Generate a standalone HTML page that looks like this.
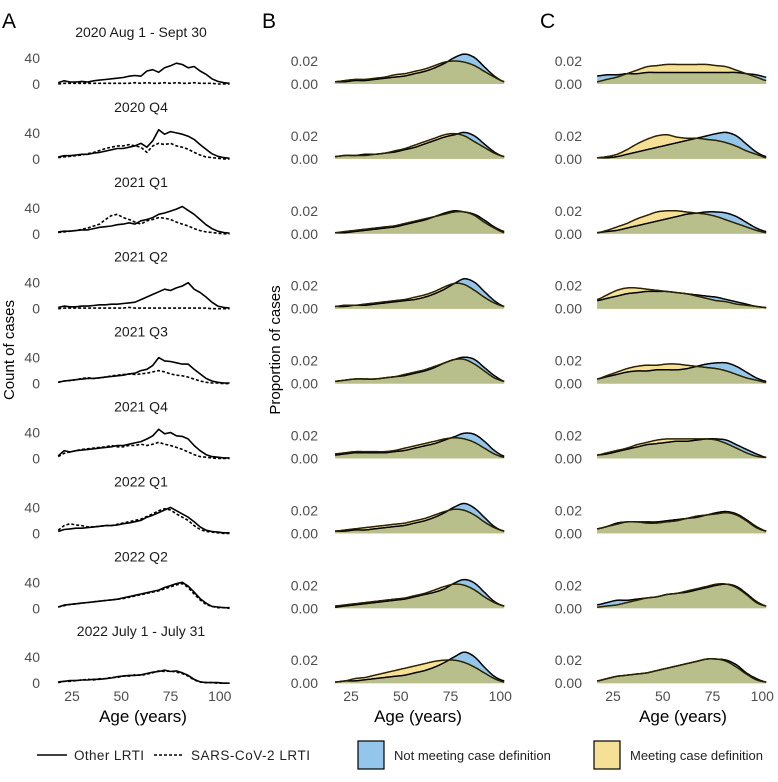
<!DOCTYPE html>
<html><head><meta charset="utf-8">
<style>
body{margin:0;background:#fff;}
svg{display:block;font-family:"Liberation Sans",sans-serif;}
</style></head>
<body>
<svg id="chart" width="778" height="782" viewBox="0 0 778 782" xmlns="http://www.w3.org/2000/svg">
<text x="2" y="28" font-size="21" fill="#000">A</text>
<text x="262" y="28" font-size="21" fill="#000">B</text>
<text x="540" y="28" font-size="21" fill="#000">C</text>
<text transform="translate(14,350) rotate(-90)" text-anchor="middle" font-size="15">Count of cases</text>
<text transform="translate(280,350) rotate(-90)" text-anchor="middle" font-size="15">Proportion of cases</text>
<g id="plots"></g>
<g>
<line x1="37" y1="755" x2="67" y2="755" stroke="#000" stroke-width="1.6"/>
<text x="74" y="760" font-size="13.5" textLength="70" fill="#222">Other LRTI</text>
<line x1="154" y1="755" x2="184" y2="755" stroke="#000" stroke-width="1.6" stroke-dasharray="3,2"/>
<text x="191" y="760" font-size="13.5" textLength="119" fill="#222">SARS-CoV-2 LRTI</text>
<rect x="358" y="741" width="26" height="28" fill="#93c6ea" stroke="#000" stroke-width="1.2"/>
<text x="394" y="760" font-size="13" fill="#222">Not meeting case definition</text>
<rect x="594" y="741" width="26" height="28" fill="#f6e096" stroke="#000" stroke-width="1.2"/>
<text x="630" y="760" font-size="13" fill="#222">Meeting case definition</text>
</g>
</svg>
<script>
const titles=["2020 Aug 1 - Sept 30","2020 Q4","2021 Q1","2021 Q2","2021 Q3","2021 Q4","2022 Q1","2022 Q2","2022 July 1 - July 31"];
const countAges=[18,21,24,27,30,33,36,39,42,45,48,51,54,57,60,63,66,69,72,75,78,81,84,87,90,93,96,99,102,105];
const otherCounts=[
[2,5,3,3,4,3,5,6,7,8,9,10,12,13,12,20,22,18,25,28,32,30,25,27,20,15,8,4,2,1],
[3,5,5,6,7,7,9,10,12,14,16,16,18,20,24,18,28,45,38,42,40,38,35,30,22,15,8,4,2,1],
[3,4,4,5,6,6,8,10,11,12,14,15,17,15,20,22,25,30,32,35,38,42,36,30,22,14,8,4,2,1],
[2,4,3,3,4,4,5,6,6,7,7,8,9,10,14,18,22,26,30,28,32,35,40,30,25,18,10,4,2,1],
[2,4,5,6,7,8,8,9,10,11,12,13,15,16,20,22,28,40,35,34,32,30,30,22,15,8,4,2,1,1],
[4,12,10,12,13,14,15,16,17,18,20,20,22,24,26,30,35,45,38,40,35,34,30,20,12,6,3,2,1,1],
[3,6,7,8,8,9,10,11,12,12,13,15,16,18,20,25,28,32,36,40,35,30,25,18,10,5,3,2,1,1],
[2,5,6,7,8,9,10,11,12,13,14,16,18,20,22,24,26,28,32,35,38,40,34,25,15,8,3,2,1,1],
[2,3,4,4,5,5,6,6,7,8,10,11,12,12,13,15,17,18,20,18,19,16,12,6,2,1,1,1,0,0]];
const sarsCounts=[
[0,1,1,1,1,1,1,1,1,1,1,1,1,2,1,2,1,1,2,1,2,1,1,2,1,1,1,0,0,0],
[2,3,4,5,6,8,10,13,16,18,20,20,22,20,18,10,20,24,22,24,20,18,15,10,6,3,2,1,0,0],
[2,3,4,5,7,9,12,15,22,28,30,25,22,18,15,20,22,25,24,22,18,15,12,8,5,3,2,1,0,0],
[0,1,1,1,1,1,1,1,1,1,1,1,2,1,1,1,1,1,1,1,1,1,1,1,1,1,0,0,0,0],
[2,4,5,6,8,9,8,9,10,12,13,14,15,14,15,16,18,20,18,15,13,12,10,7,4,2,1,1,0,0],
[3,8,10,12,14,15,16,17,18,20,18,18,20,20,22,20,22,25,22,20,17,14,10,6,3,2,1,0,0,0],
[5,12,15,13,12,10,10,11,12,12,14,16,18,20,22,26,30,35,38,36,30,25,20,12,6,3,2,1,0,0],
[2,4,6,7,8,9,10,11,12,13,14,15,17,19,21,23,25,27,30,33,36,38,32,22,13,6,3,1,1,0],
[1,3,3,4,5,6,5,7,7,9,9,11,11,13,12,14,16,19,18,19,17,15,11,5,2,1,1,0,0,0]];
const densAges=[17,22,27,32,37,42,47,52,57,62,67,72,77,82,87,92,97,102];
const bBlue=[
[.002,.002,.003,.003,.004,.005,.006,.007,.009,.011,.014,.018,.023,.026,.023,.015,.007,.002],
[.002,.003,.003,.004,.004,.005,.006,.008,.010,.013,.016,.019,.021,.023,.020,.013,.006,.002],
[.001,.001,.002,.003,.004,.005,.006,.008,.010,.012,.015,.018,.020,.019,.017,.012,.006,.002],
[.002,.002,.003,.003,.004,.005,.006,.007,.008,.010,.013,.017,.022,.026,.023,.015,.007,.002],
[.002,.003,.004,.004,.004,.005,.006,.007,.009,.011,.014,.018,.021,.023,.021,.014,.007,.002],
[.003,.004,.005,.005,.005,.005,.006,.007,.009,.011,.013,.016,.019,.022,.021,.015,.007,.002],
[.002,.002,.003,.003,.004,.005,.006,.007,.009,.011,.014,.018,.023,.026,.022,.014,.006,.002],
[.001,.002,.003,.004,.005,.006,.007,.008,.010,.012,.014,.017,.022,.025,.022,.014,.006,.002],
[.001,.002,.002,.003,.004,.005,.006,.007,.009,.011,.014,.018,.023,.027,.023,.014,.006,.002]];
const bYellow=[
[.002,.003,.004,.004,.005,.006,.008,.009,.011,.013,.016,.019,.020,.019,.016,.011,.006,.002],
[.002,.003,.003,.003,.004,.005,.007,.009,.012,.015,.018,.021,.022,.020,.015,.010,.005,.002],
[.001,.002,.003,.004,.005,.006,.007,.009,.011,.013,.015,.017,.019,.019,.016,.010,.005,.001],
[.002,.003,.003,.004,.005,.006,.007,.008,.010,.012,.015,.019,.022,.021,.016,.010,.005,.002],
[.002,.003,.004,.004,.004,.005,.006,.008,.010,.012,.015,.018,.021,.021,.017,.011,.005,.002],
[.004,.005,.006,.006,.006,.006,.007,.009,.011,.013,.015,.017,.018,.017,.014,.009,.004,.001],
[.002,.003,.004,.005,.006,.007,.008,.009,.011,.013,.016,.019,.021,.020,.016,.010,.005,.002],
[.002,.003,.004,.005,.006,.007,.008,.009,.011,.013,.016,.019,.021,.020,.016,.010,.005,.002],
[.001,.002,.004,.005,.007,.009,.011,.013,.015,.017,.019,.020,.020,.018,.014,.009,.004,.001]];
const cBlue=[
[.007,.008,.008,.009,.009,.010,.010,.010,.010,.010,.010,.010,.010,.010,.010,.009,.008,.006],
[.001,.001,.002,.004,.006,.008,.010,.012,.014,.016,.018,.020,.022,.023,.020,.013,.006,.002],
[.001,.002,.003,.005,.007,.009,.011,.013,.015,.017,.018,.019,.019,.018,.015,.010,.005,.002],
[.007,.009,.011,.013,.014,.015,.015,.015,.014,.013,.012,.011,.010,.008,.006,.004,.002,.001],
[.004,.006,.008,.010,.011,.011,.012,.012,.012,.013,.015,.017,.018,.018,.015,.010,.005,.002],
[.003,.004,.006,.008,.010,.012,.013,.014,.015,.015,.016,.017,.017,.016,.012,.008,.004,.001],
[.004,.006,.009,.010,.010,.010,.010,.011,.012,.013,.014,.016,.018,.019,.017,.012,.006,.002],
[.003,.005,.007,.007,.008,.009,.010,.012,.013,.014,.016,.018,.020,.021,.019,.013,.006,.002],
[.002,.004,.006,.007,.008,.009,.011,.013,.015,.017,.019,.021,.021,.020,.016,.009,.004,.001]];
const cYellow=[
[.002,.004,.006,.009,.012,.015,.016,.017,.017,.017,.017,.017,.016,.015,.012,.009,.006,.003],
[.001,.002,.004,.008,.013,.017,.020,.021,.019,.018,.018,.017,.016,.014,.011,.007,.004,.001],
[.001,.003,.006,.009,.013,.016,.019,.020,.020,.019,.018,.017,.015,.012,.009,.006,.003,.001],
[.008,.012,.016,.018,.018,.017,.016,.015,.014,.013,.011,.009,.007,.006,.004,.003,.002,.001],
[.004,.007,.010,.013,.015,.016,.016,.017,.017,.016,.015,.014,.013,.011,.008,.005,.003,.001],
[.003,.005,.007,.009,.012,.014,.016,.017,.017,.017,.017,.017,.016,.013,.009,.005,.002,.001],
[.004,.006,.008,.010,.010,.009,.009,.010,.011,.013,.015,.016,.017,.018,.016,.011,.005,.002],
[.001,.002,.003,.005,.007,.009,.010,.012,.013,.015,.017,.019,.021,.021,.018,.012,.005,.002],
[.002,.004,.006,.007,.008,.009,.011,.013,.015,.017,.019,.021,.021,.019,.014,.008,.003,.001]];
const xTicks=[25,50,75,100];
const countTicks=[0,40];
const densTicks=[0,0.02];

const NS="http://www.w3.org/2000/svg";
const root=document.getElementById('plots');
function mk(tag,attrs,parent){const e=document.createElementNS(NS,tag);for(const k in attrs)e.setAttribute(k,attrs[k]);(parent||root).appendChild(e);return e;}
function base(i){return 84+i*74.9;}
const xA=a=>72+(a-25)*1.97;
const xB=a=>351+(a-25)*1.99;
const xC=a=>613+(a-25)*1.99;
const yCount=(v,i)=>base(i)-v*26/40;
const yDens=(d,i)=>base(i)-d*1150;
function sample(ages,vals,step){
  const out=[];
  for(let k=0;k<ages.length-1;k++){
    const p0=vals[Math.max(0,k-1)],p1=vals[k],p2=vals[k+1],p3=vals[Math.min(vals.length-1,k+2)];
    const a0=ages[k],a1=ages[k+1];
    for(let t=0;t<1;t+=step){
      const t2=t*t,t3=t2*t;
      const v=0.5*((2*p1)+(-p0+p2)*t+(2*p0-5*p1+4*p2-p3)*t2+(-p0+3*p1-3*p2+p3)*t3);
      out.push([a0+(a1-a0)*t,Math.max(0,v)]);
    }
  }
  out.push([ages[ages.length-1],vals[vals.length-1]]);
  return out;
}
function txt(x,y,s,size,anchor,fill,name){
  const t=mk('text',{x:x,y:y,'font-size':size,'text-anchor':anchor,fill:fill});
  t.textContent=s;
  
  
  return t;
}
for(let i=0;i<9;i++){
  const yb=base(i);
  txt(141,yb-47,titles[i],14,'middle','#1a1a1a','panel-title');
  countTicks.forEach(v=>{txt(40,yCount(v,i)+5,String(v),14,'end','#4d4d4d','count-tick-label');});
  const lineFor=(vals,dash,name)=>{
    const d=countAges.map((a,k)=>(k?'L':'M')+xA(a).toFixed(1)+','+yCount(vals[k],i).toFixed(1)).join('');
    const p=mk('path',{d:d,fill:'none',stroke:'#000','stroke-width':1.6,'stroke-linejoin':'round'});
    if(dash)p.setAttribute('stroke-dasharray','3,2');
    
    
  };
  lineFor(sarsCounts[i],true,'sars-cov-2-lrti-line');
  lineFor(otherCounts[i],false,'other-lrti-line');
  [[xB,bBlue,bYellow,318],[xC,cBlue,cYellow,582]].forEach(([xf,blue,yellow,tx])=>{
    densTicks.forEach(v=>{txt(tx,yDens(v,i)+5,v.toFixed(2),14,'end','#4d4d4d','density-tick-label');});
    const sb=sample(densAges,blue[i],0.1), sy=sample(densAges,yellow[i],0.1);
    const area=(pts)=>{const x0=xf(pts[0][0]),x1=xf(pts[pts.length-1][0]);
      return 'M'+x0.toFixed(1)+','+yb.toFixed(1)+pts.map(p=>'L'+xf(p[0]).toFixed(1)+','+yDens(p[1],i).toFixed(1)).join('')+'L'+x1.toFixed(1)+','+yb.toFixed(1)+'Z';};
    const line=(pts)=>pts.map((p,k)=>(k?'L':'M')+xf(p[0]).toFixed(1)+','+yDens(p[1],i).toFixed(1)).join('');
    const minPts=sb.map((p,k)=>[p[0],Math.min(p[1],sy[k][1])]);
    const ab=mk('path',{d:area(sb),fill:'#93c6ea'});
    
    
    const ay=mk('path',{d:area(sy),fill:'#f6e096'});
    
    
    const am=mk('path',{d:area(minPts),fill:'#b9bf8a'});
    
    
    const lb=mk('path',{d:line(sb),fill:'none',stroke:'#000','stroke-width':1.5});
    
    
    const ly=mk('path',{d:line(sy),fill:'none',stroke:'#2a2200','stroke-width':1.5});
    
    
  });
}
[[xA,143],[xB,418],[xC,683]].forEach(([xf,cx])=>{
  xTicks.forEach(a=>{txt(xf(a),701,String(a),14,'middle','#4d4d4d','x-tick-label');});
  txt(cx,722,'Age (years)',17,'middle','#000','x-axis-title');
});
</script>
</body></html>
